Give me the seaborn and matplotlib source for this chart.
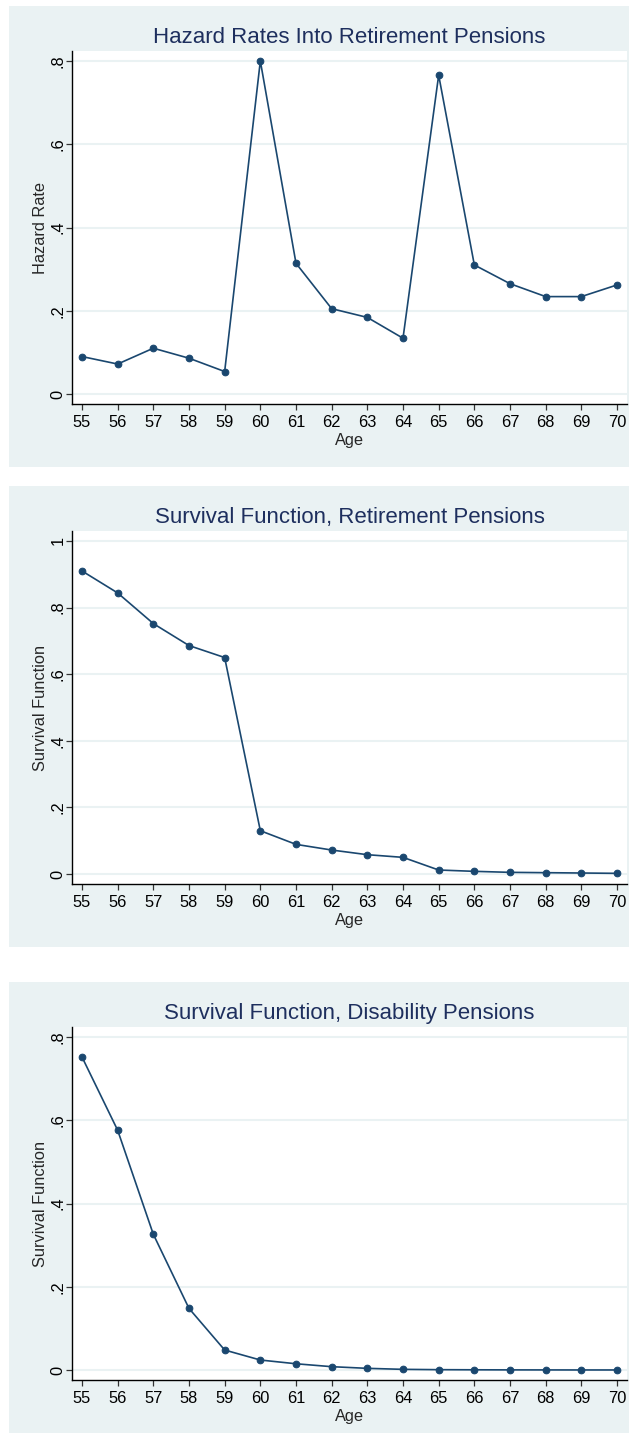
import matplotlib
matplotlib.use("Agg")
import matplotlib.pyplot as plt
import seaborn as sns
import pandas as pd
from matplotlib.patches import Rectangle

# ages on the x axis
ages = list(range(55, 71))

# hazard rates into retirement pensions
hazard_rate = [0.090, 0.072, 0.110, 0.086, 0.054, 0.800, 0.314, 0.205,
               0.184, 0.134, 0.766, 0.310, 0.265, 0.234, 0.234, 0.262]

# survival function, retirement pensions
surv_retire = [0.910, 0.844, 0.752, 0.686, 0.650, 0.130, 0.089, 0.072,
               0.058, 0.050, 0.012, 0.008, 0.005, 0.004, 0.003, 0.002]

# survival function, disability pensions
surv_disab = [0.752, 0.576, 0.326, 0.148, 0.048, 0.024, 0.015, 0.008,
              0.004, 0.0016, 0.0008, 0.0005, 0.0003, 0.0002, 0.0001, 0.0001]

titles = ["Hazard Rates Into Retirement Pensions",
          "Survival Function, Retirement Pensions",
          "Survival Function, Disability Pensions"]
ylabels = ["Hazard Rate", "Survival Function", "Survival Function"]
yticks = [[0, 0.2, 0.4, 0.6, 0.8],
          [0, 0.2, 0.4, 0.6, 0.8, 1.0],
          [0, 0.2, 0.4, 0.6, 0.8]]
ytick_labels = [["0", ".2", ".4", ".6", ".8"],
                ["0", ".2", ".4", ".6", ".8", "1"],
                ["0", ".2", ".4", ".6", ".8"]]

sns.set_style("white")
plt.rcParams['font.family'] = ['Liberation Sans', 'DejaVu Sans']

W, H = 629, 1437
fig = plt.figure(figsize=(W / 100, H / 100), dpi=100)
fig.patch.set_facecolor("white")

bg_color = "#EAF2F3"
navy = "#1A476F"
title_color = "#1E2F5E"

# (background top, background bottom, plot top, plot bottom, ylim) in pixels
layout = [
    (6, 467, 51, 404, (-0.024, 0.824)),
    (486, 947, 531, 884, (-0.03, 1.03)),
    (982, 1433, 1027, 1380, (-0.024, 0.824)),
]
series = [hazard_rate, surv_retire, surv_disab]

for i, (bg_top, bg_bot, p_top, p_bot, ylim) in enumerate(layout):
    # grey-blue graph region behind each panel
    fig.patches.append(Rectangle((9 / W, 1 - bg_bot / H), (W - 9) / W, (bg_bot - bg_top) / H,
                                 transform=fig.transFigure, facecolor=bg_color,
                                 edgecolor="none", zorder=-1))

    ax = fig.add_axes([72 / W, 1 - p_bot / H, (627 - 72) / W, (p_bot - p_top) / H])
    ax.set_facecolor("white")

    df = pd.DataFrame({"Age": ages, "value": series[i]})
    sns.lineplot(data=df, x="Age", y="value", ax=ax, color=navy, linewidth=1.2,
                 marker="o", markersize=4.8, markeredgecolor=navy, markerfacecolor=navy)

    ax.set_xlim(54.72, 70.28)
    ax.set_ylim(*ylim)
    ax.set_xticks(ages)
    ax.set_xticklabels([str(a) for a in ages])
    ax.set_yticks(yticks[i])
    ax.set_yticklabels(ytick_labels[i], rotation=90, va="center")

    for y in yticks[i]:
        ax.axhline(y, color=bg_color, linewidth=1.5, zorder=0)

    for s in ["top", "right"]:
        ax.spines[s].set_visible(False)
    for s in ["left", "bottom"]:
        ax.spines[s].set_color("black")
        ax.spines[s].set_linewidth(1.0)

    ax.tick_params(axis="both", which="major", direction="out", length=4.3, width=0.9,
                   color="#333333", labelsize=11.8, labelcolor="black",
                   left=True, bottom=True)
    ax.tick_params(axis="x", pad=3.5)
    ax.tick_params(axis="y", pad=0.5)

    ax.set_xlabel("Age", fontsize=11.8, labelpad=2)
    ax.set_ylabel(ylabels[i], fontsize=11.8, labelpad=2)
    ax.set_title(titles[i], fontsize=16, color=title_color, pad=5.5)

fig.savefig("out.png", dpi=100)
